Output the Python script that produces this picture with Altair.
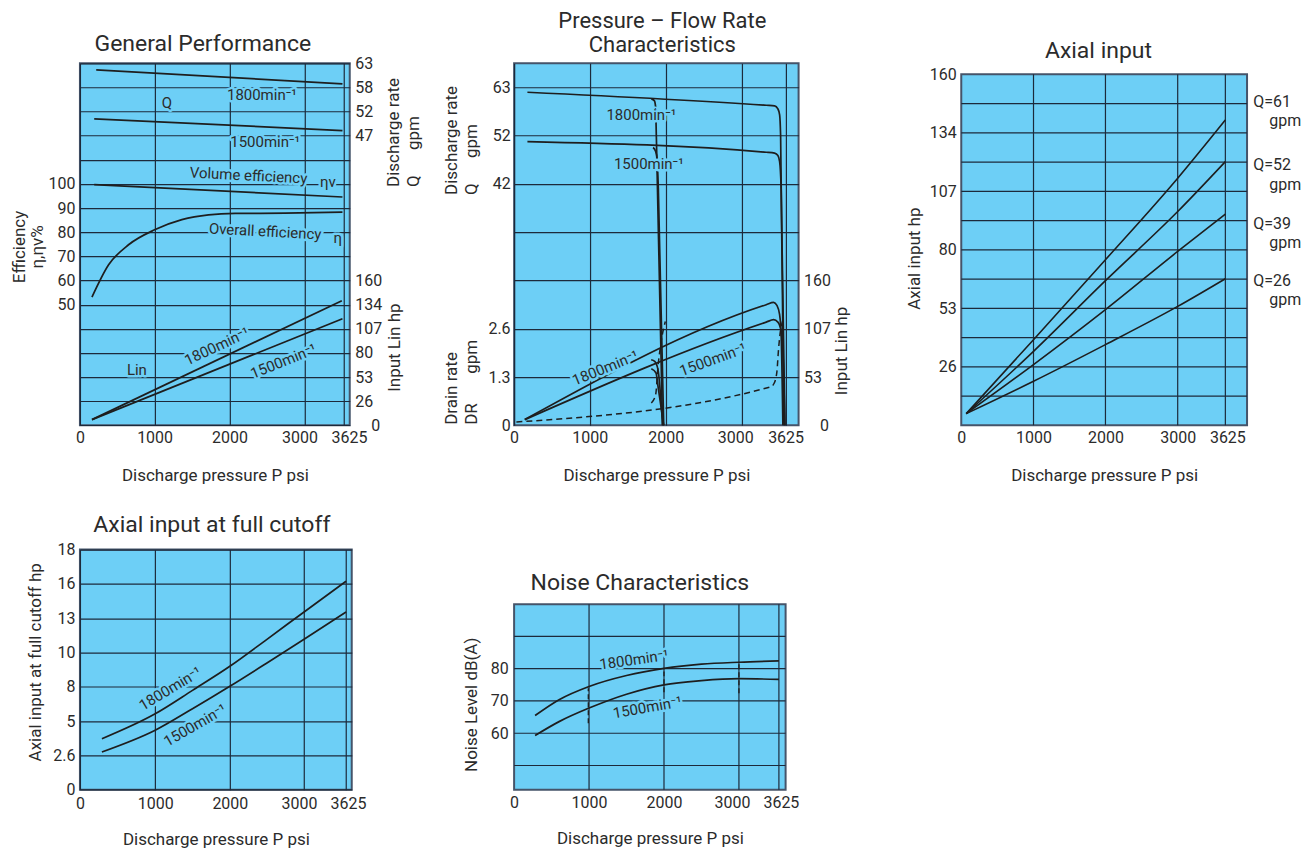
import altair as alt
import pandas as pd

FONT = "Roboto"
BLUE = "#6dcff6"
GRID = "#1c2a3b"
FRAME = "#45546a"
INK = "#1e1e1e"
TXT = "#2b2b2b"
NB = "\u00a0"
SUP = "min\u207b\u00b9"

X_TICKS = [0, 1000, 2000, 3000, 3625]
XTITLE = "Discharge pressure P psi"

# ---------------- Panel 1: General Performance ----------------
p1_q1800_p = [218, 3600]
p1_q1800_v = [61.96, 58.90]
p1_q1500_p = [191, 3600]
p1_q1500_v = [51.24, 48.68]
p1_veff_p = [191, 3600]
p1_veff_v = [99.7, 94.6]
p1_oeff_p = [161, 384, 651, 1000, 1364, 1720, 2075, 2741, 3600]
p1_oeff_v = [53.1, 66.5, 74.8, 81.0, 85.2, 87.2, 87.8, 87.9, 88.3]
p1_l1800_p = [161, 3590]
p1_l1800_v = [6.3, 138.5]
p1_l1500_p = [161, 3600]
p1_l1500_v = [6.3, 118.5]
p1_q_ticks = [63.40, 58.12, 52.83, 47.55]
p1_l_ticks = [0, 26.82, 53.64, 80.46, 107.28, 134.10, 160.93]
p1_e_ticks = [0, 10, 20, 30, 40, 50, 60, 70, 80, 90, 100, 110, 120, 130, 140, 150]
p1_qlab_t = ["Q", "1800" + SUP, "1500" + SUP]
p1_qlab_p = [1164, 2431, 2475]
p1_qlab_v = [54.65, 56.49, 46.12]
p1_qlab_a = [0, 0, 0]
p1_elab_t = ["Volume efficiency", "\u03b7v", "Overall efficiency", "\u03b7"]
p1_elab_p = [2253, 3368, 2475, 3525]
p1_elab_v = [103.5, 100.7, 80.3, 77.5]
p1_elab_a = [3, 0, 3, 0]
p1_llab_t = ["Lin", "1800" + SUP, "1500" + SUP]
p1_llab_p = [763, 1831, 2720]
p1_llab_v = [61.85, 87.7, 71.1]
p1_llab_a = [0, 335, 338]

# ---------------- Panel 2: Pressure - Flow Rate ----------------
p2_q1800_hi_p = [176, 3346, 3467, 3514, 3539, 3553, 3601]
p2_q1800_hi_v = [62.34, 59.49, 59.36, 58.70, 57.39, 53.0, -10.57]
p2_q1800_lo_p = [1811, 1850, 1866, 1878, 1958]
p2_q1800_lo_v = [60.89, 60.5, 59.3, 52.0, -10.57]
p2_q1500_hi_p = [176, 3346, 3467, 3514, 3539, 3561, 3615]
p2_q1500_hi_v = [51.55, 49.21, 49.0, 48.49, 47.17, 41.33, -10.57]
p2_q1500_lo_p = [1834, 1868, 1886, 1903, 1974]
p2_q1500_lo_v = [50.24, 49.36, 47.9, 41.3, -10.57]
p2_l1800_hi_p = [141, 3346, 3452, 3500, 3539, 3561, 3586]
p2_l1800_hi_v = [6.33, 134.0, 136.6, 133.2, 122.9, 100.7, 0]
p2_l1800_lo_p = [1809, 1855, 1898, 1960]
p2_l1800_lo_v = [72.8, 71.1, 62.2, 0]
p2_l1500_hi_p = [141, 3346, 3452, 3514, 3561, 3586, 3615]
p2_l1500_hi_v = [6.33, 114.7, 117.4, 114.7, 104.4, 82.2, 0]
p2_l1500_lo_p = [1811, 1873, 1899, 1974]
p2_l1500_lo_v = [62.8, 58.1, 43.3, 0]
p2_dr_hi_p = [30, 3407, 3460, 3500, 3520, 3545, 3580]
p2_dr_hi_v = [0.09, 1.05, 1.15, 1.47, 2.0, 2.5, 2.84]
p2_dr_lo_p = [1811, 1868, 1897, 1941, 1995]
p2_dr_lo_v = [0.61, 0.84, 1.57, 2.30, 2.84]
p2_q_ticks = [63.40, 52.83, 42.27, 31.70, 21.13, 10.57, 0.0]
p2_dr_ticks = [0, 1.321, 2.642]
p2_l_ticks = [0, 53.64, 107.28, 160.93]
p2_qlab_t = ["1800" + SUP, "1500" + SUP]
p2_qlab_p = [1679, 1777]
p2_qlab_v = [57.39, 46.67]
p2_qlab_a = [0, 0]
p2_llab_t = ["1800" + SUP, "1500" + SUP]
p2_llab_p = [1205, 2617]
p2_llab_v = [63.6, 73.0]
p2_llab_a = [338, 340]

# ---------------- Panel 3: Axial input ----------------
p3_p = [69, 1000, 2000, 3000, 3625]
p3_q61 = [5.36, 39.26, 75.9, 113.3, 140.0]
p3_q52 = [5.36, 33.9, 66.3, 98.0, 120.9]
p3_q39 = [5.36, 27.8, 53.0, 79.7, 96.8]
p3_q26 = [5.36, 20.2, 37.0, 54.5, 67.2]
p3_ticks = [26.82, 53.64, 80.46, 107.28, 134.10, 160.93]
p3_hgrid = [13.41, 26.82, 40.23, 53.64, 67.05, 80.46, 93.87, 107.28, 120.69, 134.10, 147.51]
p3_vgrid = [1000, 2000, 3000, 3625]
p3_lab_t = ["Q=61", "Q=52", "Q=39", "Q=26"]
p3_lab_v = [148.1, 119.4, 92.4, 66.3]
p3_gpm_v = [139.6, 110.3, 83.5, 57.6]

# ---------------- Panel 4: Axial input at full cutoff ----------------
p4_p = [292, 1000, 1500, 2000, 2500, 3000, 3625]
p4_1800 = [3.99, 5.94, 7.77, 9.65, 11.76, 13.9, 16.3]
p4_1500 = [2.95, 4.65, 6.33, 8.09, 9.91, 11.76, 13.9]
p4_ticks = [0, 2.682, 5.364, 8.046, 10.728, 13.41, 16.092, 18.774]
p4_lab_t = ["1800" + SUP, "1500" + SUP]
p4_lab_p = [1201, 1535]
p4_lab_v = [7.9, 5.04]
p4_lab_a = [329, 330]

# ---------------- Panel 5: Noise ----------------
p5_p = [280, 600, 1000, 1500, 2000, 2500, 3000, 3625]
p5_1800 = [65.5, 70.4, 74.5, 77.9, 80.1, 81.4, 82.0, 82.4]
p5_1500 = [59.3, 63.6, 67.8, 72.1, 75.0, 76.3, 76.9, 76.7]
p5_conn_p = [990, 2000, 3000]
p5_conn_lo = [63.1, 72.7, 72.4]
p5_conn_hi = [73.95, 79.1, 82.2]
p5_ticks = [60, 70, 80]
p5_hgrid = [50, 60, 70, 80, 90]
p5_vgrid = [1000, 2000, 3000, 3625]
p5_lab_t = ["1800" + SUP, "1500" + SUP]
p5_lab_p = [1600, 1779]
p5_lab_v = [82.75, 68.0]
p5_lab_a = [352, 350]


# ---------------- helpers ----------------
def series_df(items):
    rows = []
    for name, ps, vs in items:
        for i, (p, v) in enumerate(zip(ps, vs)):
            rows.append({"s": name, "p": p, "v": v, "o": i})
    return pd.DataFrame(rows)


def label_df(t, p, v, a):
    return pd.DataFrame({"t": t, "p": p, "v": v, "a": a})


def shift(o3000, o3625):
    conds = []
    if o3000:
        conds.append({"test": "datum.value == 3000", "value": o3000})
    if o3625:
        conds.append({"test": "datum.value == 3625", "value": o3625})
    if not conds:
        return 0
    return {"condition": conds, "value": 0}


def mk_x(dom, rng, grid=True, lp=4, tp=22, off=(0, 0)):
    return alt.X("p:Q",
                 scale=alt.Scale(domain=dom, range=rng, nice=False, zero=False),
                 axis=alt.Axis(values=X_TICKS, grid=grid, title=XTITLE, format="d",
                               labelPadding=lp, titlePadding=tp, labelOffset=shift(*off)))


def mk_y(dom, axis):
    return alt.Y("v:Q", scale=alt.Scale(domain=dom, nice=False, zero=False), axis=axis)


def curves(df, X, Y, dashed=False, width=1.7):
    kw = dict(color=INK, strokeWidth=width, interpolate="monotone")
    if dashed:
        kw["strokeDash"] = [6, 4]
    return alt.Chart(df).mark_line(**kw).encode(x=X, y=Y, detail="s:N", order="o:Q")


def labels(df, X, Y, size=15):
    base = alt.Chart(df).encode(x=X, y=Y, text="t:N", angle=alt.Angle("a:Q", scale=None))
    halo = base.mark_text(font=FONT, fontSize=size, align="center", baseline="middle",
                          fill=BLUE, stroke=BLUE, strokeWidth=5, strokeJoin="round")
    txt = base.mark_text(font=FONT, fontSize=size, align="center", baseline="middle", color=TXT)
    return [halo, txt]


def ttl(text, dx, offset, dy=0, size=23):
    return alt.TitleParams(text, anchor="middle", frame="group", dx=dx, dy=dy, offset=offset,
                           fontSize=size, font=FONT, fontWeight="normal", color=TXT, lineHeight=24)


def rot_axis(orient, values, expr, title, tx, ty, align, grid=False, lh=20, lp=5):
    return alt.Axis(orient=orient, values=values, grid=grid, labelExpr=expr, title=title,
                    titleAngle=270, titleAlign=align, titleBaseline="middle",
                    titleX=tx, titleY=ty, titleLineHeight=lh, labelPadding=lp)


FLOOR = "'' + floor(datum.value)"
VIEW_BLUE = alt.ViewBackground(fill=BLUE, stroke=FRAME, strokeWidth=2)
VIEW_NONE = alt.ViewBackground(fill="transparent", stroke="transparent")
ZERO_PUSH = {"condition": {"test": "datum.value == 0", "value": 21}, "value": 5}

# ---------------- Panel 1 ----------------
X1 = mk_x([0, 1000, 2000, 3000, 3625, 3700], [0, 74.7, 149.7, 224.7, 264.3, 270], off=(-5, 5))
YE = mk_y([0, 150], rot_axis("left", p1_e_ticks,
                             "datum.value >= 50 && datum.value <= 100 ? datum.label : ''",
                             ["Efficiency", "\u03b7,\u03b7v%"], -60, 183.3, "center", grid=True, lh=18))
YQ = mk_y([-15.845, 63.40], rot_axis("right", p1_q_ticks, FLOOR,
                                     ["Discharge rate", "Q" + NB * 6 + "gpm"], 43.7, 123.3, "left"))
YL = mk_y([0, 402.3], rot_axis("right", p1_l_ticks, FLOOR, "Input Lin hp", 45.3, 328.3, "left",
                               lp=ZERO_PUSH))

p1_E = alt.layer(
    curves(series_df([("v", p1_veff_p, p1_veff_v), ("o", p1_oeff_p, p1_oeff_v)]), X1, YE),
    *labels(label_df(p1_elab_t, p1_elab_p, p1_elab_v, p1_elab_a), X1, YE))
p1_Q = alt.layer(
    curves(series_df([("a", p1_q1800_p, p1_q1800_v), ("b", p1_q1500_p, p1_q1500_v)]), X1, YQ),
    *labels(label_df(p1_qlab_t, p1_qlab_p, p1_qlab_v, p1_qlab_a), X1, YQ))
p1_L = alt.layer(
    curves(series_df([("a", p1_l1800_p, p1_l1800_v), ("b", p1_l1500_p, p1_l1500_v)]), X1, YL),
    *labels(label_df(p1_llab_t, p1_llab_p, p1_llab_v, p1_llab_a), X1, YL))
p1 = alt.layer(p1_E, p1_Q, p1_L).resolve_scale(y="independent").properties(
    width=270, height=362.3, view=VIEW_BLUE, title=ttl("General Performance", -12, -1))

# ---------------- Panel 2 ----------------
X2 = mk_x([0, 1000, 2000, 3000, 3625, 3750], [0, 75.7, 151.7, 228.3, 271.7, 284.7], off=(-7, 0))
Y2Q = mk_y([-10.57, 68.68], rot_axis("left", p2_q_ticks,
                                     "datum.value > 40 ? '' + floor(datum.value) : ''",
                                     ["Discharge rate", "Q" + NB * 6 + "gpm"], -62.5, 131.3, "left",
                                     grid=True, lp=4))
Y2D = mk_y([0, 9.906], rot_axis("left", p2_dr_ticks, "'' + floor(datum.value * 10) / 10",
                                ["Drain rate", "DR" + NB * 7 + "gpm"], -62.5, 361.3, "left", lp=4))
Y2L = mk_y([0, 402.3], rot_axis("right", p2_l_ticks, FLOOR, "Input Lin hp", 42.8, 331.6, "left",
                                lp=ZERO_PUSH))

p2_Q = alt.layer(
    curves(series_df([("a", p2_q1800_hi_p, p2_q1800_hi_v), ("b", p2_q1800_lo_p, p2_q1800_lo_v),
                      ("c", p2_q1500_hi_p, p2_q1500_hi_v), ("d", p2_q1500_lo_p, p2_q1500_lo_v)]), X2, Y2Q),
    *labels(label_df(p2_qlab_t, p2_qlab_p, p2_qlab_v, p2_qlab_a), X2, Y2Q))
p2_D = curves(series_df([("a", p2_dr_hi_p, p2_dr_hi_v), ("b", p2_dr_lo_p, p2_dr_lo_v)]), X2, Y2D,
              dashed=True, width=1.5)
p2_L = alt.layer(
    curves(series_df([("a", p2_l1800_hi_p, p2_l1800_hi_v), ("b", p2_l1800_lo_p, p2_l1800_lo_v),
                      ("c", p2_l1500_hi_p, p2_l1500_hi_v), ("d", p2_l1500_lo_p, p2_l1500_lo_v)]), X2, Y2L),
    *labels(label_df(p2_llab_t, p2_llab_p, p2_llab_v, p2_llab_a), X2, Y2L))
p2 = alt.layer(p2_Q, p2_D, p2_L).resolve_scale(y="independent").properties(
    width=284.7, height=362.3, view=VIEW_BLUE,
    title=ttl(["Pressure \u2013 Flow Rate", "Characteristics"], 6, 6, size=22))

# ---------------- Panel 3 ----------------
P3_XMAX = 3950
P3_YTOP = 160.93
X3 = mk_x([0, 1000, 2000, 3000, 3625, P3_XMAX], [0, 72.3, 144.3, 216.6, 264.3, 286], grid=False,
          off=(0, 2))
Y3 = mk_y([0, 165.97], alt.Axis(values=p3_ticks, grid=False, labelExpr=FLOOR, title="Axial input hp",
                                titleAngle=270, titleAlign="center", titleBaseline="middle",
                                titleX=-46.7, titleY=195, labelPadding=5))
bg3 = alt.Chart(pd.DataFrame({"p": [0], "p2": [P3_XMAX], "v": [0], "v2": [P3_YTOP]})).mark_rect(
    fill=BLUE, stroke=FRAME, strokeWidth=2).encode(x=X3, x2="p2:Q", y=Y3, y2="v2:Q")
vg3 = alt.Chart(pd.DataFrame({"p": p3_vgrid, "v": [0] * len(p3_vgrid), "v2": [P3_YTOP] * len(p3_vgrid)})).mark_rule(
    color=GRID, strokeWidth=1.2).encode(x=X3, y=Y3, y2="v2:Q")
hg3 = alt.Chart(pd.DataFrame({"v": p3_hgrid, "p": [0] * len(p3_hgrid), "p2": [P3_XMAX] * len(p3_hgrid)})).mark_rule(
    color=GRID, strokeWidth=1.2).encode(y=Y3, x=X3, x2="p2:Q")
cv3 = curves(series_df([("a", p3_p, p3_q61), ("b", p3_p, p3_q52), ("c", p3_p, p3_q39), ("d", p3_p, p3_q26)]),
             X3, Y3, width=1.6)
lq3 = alt.Chart(pd.DataFrame({"t": p3_lab_t, "v": p3_lab_v})).mark_text(
    font=FONT, fontSize=16, align="left", baseline="middle", color=TXT).encode(
    x=alt.value(292.3), y=Y3, text="t:N")
lg3 = alt.Chart(pd.DataFrame({"t": ["gpm"] * 4, "v": p3_gpm_v})).mark_text(
    font=FONT, fontSize=16, align="left", baseline="middle", color=TXT).encode(
    x=alt.value(308.3), y=Y3, text="t:N")
p3 = alt.layer(bg3, vg3, hg3, cv3, lq3, lg3).properties(
    width=286, height=362.3, view=VIEW_NONE, title=ttl("Axial input", -5.7, 0))

# ---------------- Panel 4 ----------------
X4 = mk_x([0, 1000, 2000, 3000, 3625, 3700], [0, 75.3, 150, 224.3, 266.3, 272], lp=6, tp=20,
          off=(-5, 2))
Y4 = mk_y([0, 18.774], alt.Axis(values=p4_ticks, grid=True,
                                labelExpr="datum.value < 3 ? '' + floor(datum.value * 10) / 10 : '' + floor(datum.value)",
                                title="Axial input at full cutoff hp", titleAngle=270, titleAlign="center",
                                titleBaseline="middle", titleX=-44.7, titleY=112.3, labelPadding=5))
p4 = alt.layer(
    curves(series_df([("a", p4_p, p4_1800), ("b", p4_p, p4_1500)]), X4, Y4),
    *labels(label_df(p4_lab_t, p4_lab_p, p4_lab_v, p4_lab_a), X4, Y4)).properties(
    width=272, height=240.3, view=VIEW_BLUE, title=ttl("Axial input at full cutoff", -4, 5))

# ---------------- Panel 5 ----------------
P5_XMAX = 3725
P5_YLO, P5_YHI = 42.5, 100
X5 = mk_x([0, 1000, 2000, 3000, 3625, P5_XMAX], [0, 75, 150, 225, 265, 271.7], grid=False, lp=5, tp=20,
          off=(-7, 2))
Y5 = mk_y([P5_YLO, 116.9], alt.Axis(values=p5_ticks, grid=False, title="Noise Level dB(A)",
                                    titleAngle=270, titleAlign="center", titleBaseline="middle",
                                    titleX=-42.3, titleY=154.8, labelPadding=6))
bg5 = alt.Chart(pd.DataFrame({"p": [0], "p2": [P5_XMAX], "v": [P5_YLO], "v2": [P5_YHI]})).mark_rect(
    fill=BLUE, stroke=FRAME, strokeWidth=2).encode(x=X5, x2="p2:Q", y=Y5, y2="v2:Q")
vg5 = alt.Chart(pd.DataFrame({"p": p5_vgrid, "v": [P5_YLO] * 4, "v2": [P5_YHI] * 4})).mark_rule(
    color=GRID, strokeWidth=1.2).encode(x=X5, y=Y5, y2="v2:Q")
hg5 = alt.Chart(pd.DataFrame({"v": p5_hgrid, "p": [0] * 5, "p2": [P5_XMAX] * 5})).mark_rule(
    color=GRID, strokeWidth=1.2).encode(y=Y5, x=X5, x2="p2:Q")
cn5 = alt.Chart(pd.DataFrame({"p": p5_conn_p, "v": p5_conn_lo, "v2": p5_conn_hi})).mark_rule(
    color=INK, strokeWidth=1.3, strokeDash=[5, 3]).encode(x=X5, y=Y5, y2="v2:Q")
cv5 = curves(series_df([("a", p5_p, p5_1800), ("b", p5_p, p5_1500)]), X5, Y5)
p5 = alt.layer(bg5, vg5, hg5, cn5, cv5,
               *labels(label_df(p5_lab_t, p5_lab_p, p5_lab_v, p5_lab_a), X5, Y5)).properties(
    width=271.7, height=240.3, view=VIEW_NONE, title=ttl("Noise Characteristics", -10, 0, dy=45))

chart = alt.concat(p1, p2, p3, p4, p5, columns=3,
                   spacing={"row": 123.7, "column": 162.5},
                   bounds="flush", align="each").properties(
    padding={"left": 2, "top": 1, "right": 0, "bottom": 0}
).configure_axis(
    labelFont=FONT, labelFontSize=16, labelColor=TXT,
    titleFont=FONT, titleFontSize=17, titleFontWeight="normal", titleColor=TXT,
    domain=False, ticks=False, labelFlush=False, labelOverlap=False, labelBound=False,
    gridColor=GRID, gridWidth=1.2, gridOpacity=1
).configure_title(font=FONT, fontSize=23, fontWeight="normal", color=TXT)

chart.save("out.html", embed_options={"renderer": "svg", "actions": False})
